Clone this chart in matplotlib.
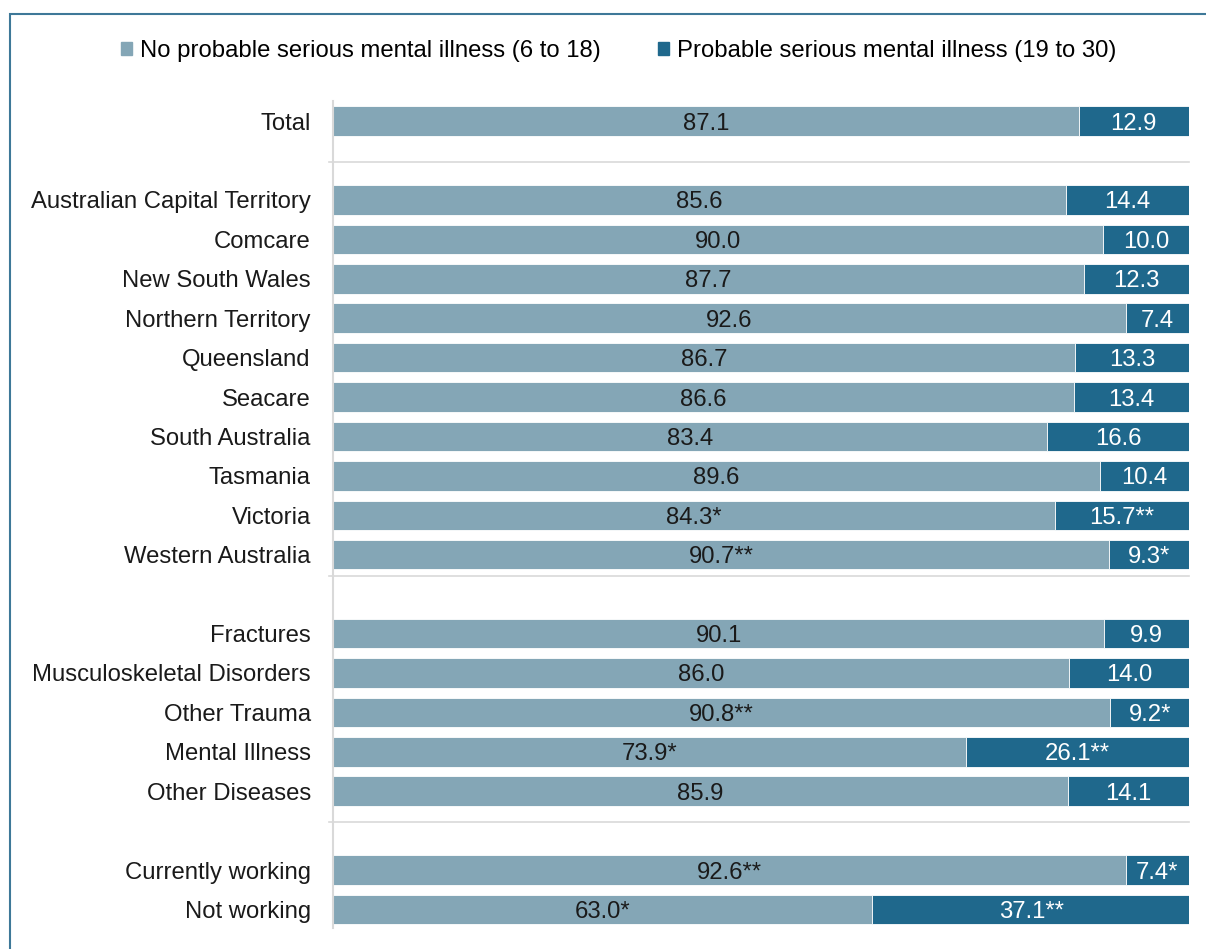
import matplotlib.pyplot as plt
from matplotlib.patches import Rectangle

plt.rcParams['font.family'] = ['Liberation Sans', 'DejaVu Sans']

# categories, None = blank row between groups
categories = ['Total', None,
              'Australian Capital Territory', 'Comcare', 'New South Wales',
              'Northern Territory', 'Queensland', 'Seacare', 'South Australia',
              'Tasmania', 'Victoria', 'Western Australia', None,
              'Fractures', 'Musculoskeletal Disorders', 'Other Trauma',
              'Mental Illness', 'Other Diseases', None,
              'Currently working', 'Not working']

no_serious = [87.1, None, 85.6, 90.0, 87.7, 92.6, 86.7, 86.6, 83.4, 89.6, 84.3, 90.7, None,
              90.1, 86.0, 90.8, 73.9, 85.9, None, 92.6, 63.0]
serious = [12.9, None, 14.4, 10.0, 12.3, 7.4, 13.3, 13.4, 16.6, 10.4, 15.7, 9.3, None,
           9.9, 14.0, 9.2, 26.1, 14.1, None, 7.4, 37.1]
no_serious_lbl = ['87.1', '', '85.6', '90.0', '87.7', '92.6', '86.7', '86.6', '83.4', '89.6',
                  '84.3*', '90.7**', '', '90.1', '86.0', '90.8**', '73.9*', '85.9', '',
                  '92.6**', '63.0*']
serious_lbl = ['12.9', '', '14.4', '10.0', '12.3', '7.4', '13.3', '13.4', '16.6', '10.4',
               '15.7**', '9.3*', '', '9.9', '14.0', '9.2*', '26.1**', '14.1', '',
               '7.4*', '37.1**']

legend_labels = ['No probable serious mental illness (6 to 18)',
                 'Probable serious mental illness (19 to 30)']

c_light = '#84A6B6'
c_dark = '#1F688C'
fs = 17.2

fig = plt.figure(figsize=(12.06, 9.49), dpi=100)
ax = fig.add_axes([333 / 1206, 1 - 928 / 949, (1189 - 333) / 1206, (928 - 101) / 949])

# outer frame (only left and top visible in the original crop)
fig.patches.append(Rectangle((10 / 1206, -0.1), 1.2, 1 - 14 / 949 + 0.1,
                             transform=fig.transFigure, fill=False,
                             edgecolor='#3E7898', linewidth=1.5))

for i, cat in enumerate(categories):
    if cat is None:
        continue
    a, b = no_serious[i], serious[i]
    ax.barh(i, a, height=0.75, color=c_light, edgecolor='white', linewidth=0.6)
    ax.barh(i, b, left=a, height=0.75, color=c_dark, edgecolor='white', linewidth=0.6)
    ax.text(a / 2, i, no_serious_lbl[i], ha='center', va='center_baseline',
            fontsize=fs, color='#1a1a1a')
    ax.text(a + b / 2, i, serious_lbl[i], ha='center', va='center_baseline',
            fontsize=fs, color='white')

# group separators
for y in [1.04, 11.53, 17.79]:
    ax.plot([-0.5, 100], [y, y], color='#d9d9d9', linewidth=1.2, clip_on=False)

ax.set_xlim(0, 100)
ax.set_ylim(20.47, -0.51)
ticks = [i for i, c in enumerate(categories) if c is not None]
ax.set_yticks(ticks)
ax.set_yticklabels([categories[i] for i in ticks], fontsize=fs, color='#1a1a1a')
ax.tick_params(axis='y', length=0, pad=16)
ax.set_xticks([])
for s in ['top', 'right', 'bottom']:
    ax.spines[s].set_visible(False)
ax.spines['left'].set_color('#d9d9d9')
ax.spines['left'].set_linewidth(1.5)

# legend
handles = [Rectangle((0, 0), 1, 1, color=c_light), Rectangle((0, 0), 1, 1, color=c_dark)]
fig.legend(handles, legend_labels, loc='center', bbox_to_anchor=(619 / 1206, 1 - 51 / 949),
           ncol=2, frameon=False, fontsize=fs, handlelength=0.45, handleheight=0.45,
           handletextpad=0.35, columnspacing=2.4)

fig.savefig('out.png', dpi=100)
